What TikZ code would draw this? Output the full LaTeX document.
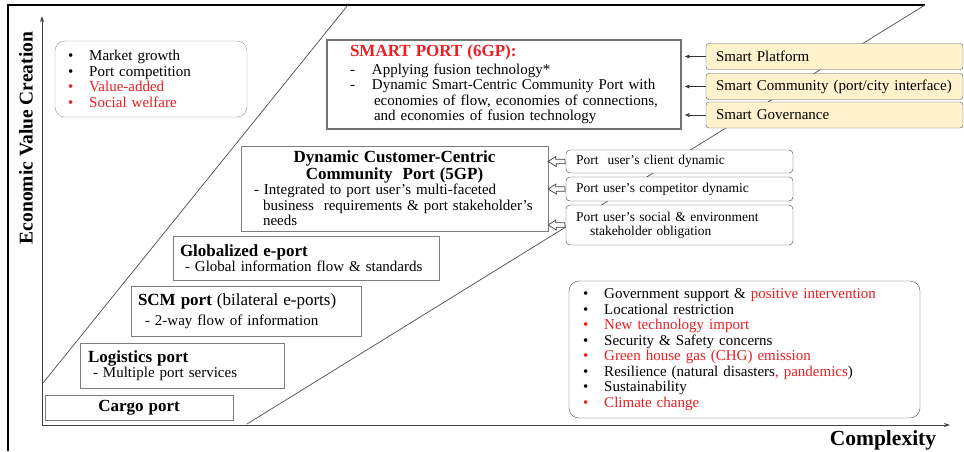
\documentclass[tikz,border=0pt]{standalone}
\usepackage{fontspec}
\setmainfont{Liberation Serif}
\usetikzlibrary{arrows.meta}

\definecolor{hlred}{RGB}{235,30,36}
\definecolor{smartfill}{HTML}{FFF2CC}
\definecolor{boxgray}{RGB}{125,125,125}

\newcommand{\bodyfont}{\fontsize{15}{15.5}\selectfont}
\newcommand{\headfont}{\fontsize{17}{14.5}\selectfont\bfseries}
\newcommand{\userfont}{\fontsize{13.5}{14}\selectfont}
\newcommand{\blt}{\textbullet\hspace{16pt}}
\newcommand{\rblt}[1]{{\color{hlred}\textbullet\hspace{16pt}#1}}

\tikzset{
  genbox/.style={draw=boxgray, fill=white, align=left, font=\bodyfont,
    inner xsep=7pt, inner ysep=0pt},
  listbox/.style={draw=boxgray!80, fill=white, rounded corners=10pt,
    align=left, font=\bodyfont, inner ysep=0pt},
  smartbox/.style={draw=black!65, fill=smartfill, rounded corners=3pt,
    align=left, font=\bodyfont, inner xsep=10pt, inner ysep=0pt,
    text width=237pt, minimum height=26pt},
  userbox/.style={draw=black!75, fill=white, rounded corners=4pt,
    align=left, font=\userfont, inner xsep=10pt, inner ysep=0pt,
    text width=207pt},
  thinarrow/.style={-{Stealth[length=5pt,width=4pt]}, black!80, shorten >=3pt},
  hollowarrow/.style={draw=black!75, fill=white, line width=0.7pt, line join=miter},
  axis/.style={-{Stealth[length=6pt,width=4pt]}, black!75, line width=0.9pt},
  guide/.style={black!70, line width=0.7pt}
}

\begin{document}
\begin{tikzpicture}[x=1pt, y=-1pt]
\useasboundingbox (0,0) rectangle (964,451);

% frame of the figure
\draw[line width=2.5pt] (925,5) -- (8,5) -- (8,451);

% axes
\coordinate (origin) at (42,425);
\coordinate (ytop) at (42,16);
\coordinate (xend) at (950,425);
\draw[axis] (origin) -- (ytop);
\draw[axis] (origin) -- (xend);
\node[rotate=90, font=\fontsize{19.5}{20}\selectfont\bfseries] (ylab) at (26,138) {Economic Value Creation};
\node[font=\fontsize{21.5}{22}\selectfont\bfseries] (xlab) at (883,440) {Complexity};

% diagonal guide lines
\coordinate (a1) at (43,383); \coordinate (a2) at (348,5);
\coordinate (b1) at (247,424); \coordinate (b2) at (925,5);
\draw[guide] (a1) -- (a2);
\draw[guide] (b1) -- (b2);

% port generations
\node[genbox, align=center, text width=174pt, minimum height=25pt] (cargo) at (139,407.5) {\headfont Cargo port};
\node[genbox, inner xsep=8pt, text width=188pt, minimum height=45pt] (logi) at (182,365.5) {{\headfont Logistics port}\\\hspace*{5pt}- Multiple port services};
\node[genbox, text width=216pt, minimum height=50pt] (scm) at (246,311) {{\headfont SCM port}{\fontsize{17}{17}\selectfont{} (bilateral e-ports)}\\[5pt]\hspace*{7pt}- 2-way flow of information};
\node[genbox, text width=252pt, minimum height=44pt] (glob) at (306,258) {{\headfont Globalized e-port}\\\hspace*{5pt}- Global information flow \& standards};
\node[genbox, inner xsep=13pt, text width=281pt, minimum height=85pt] (gp5) at (394.5,188.5) {%
  \parbox{\linewidth}{\centering\headfont Dynamic Customer-Centric\\Community~~Port (5GP)}\\
  - Integrated to port user's multi-faceted\\
  \hspace*{9pt}business~~requirements \& port stakeholder's\\
  \hspace*{9pt}needs};
\node[genbox, line width=1.8pt, draw=black!55, inner xsep=23pt, text width=308pt, minimum height=89pt] (smart) at (504,84.5) {%
  {\headfont\color{hlred}SMART PORT (6GP):}\\[2pt]
  -\hspace{17pt}Applying fusion technology*\\
  -\hspace{17pt}Dynamic Smart-Centric Community Port with\\
  \hspace*{24pt}economies of flow, economies of connections,\\
  \hspace*{24pt}and economies of fusion technology};

% drivers and factors
\node[listbox, inner xsep=13pt, text width=166pt, minimum height=76pt] (drivers) at (151,79) {%
  \blt Market growth\\
  \blt Port competition\\
  \rblt{Value-added}\\
  \rblt{Social welfare}};
\node[listbox, draw=black!70, inner xsep=14pt, text width=323pt, minimum height=137pt] (factors) at (744.5,349.5) {%
  \blt Government support \& {\color{hlred}positive intervention}\\
  \blt Locational restriction\\
  \rblt{New technology import}\\
  \blt Security \& Safety concerns\\
  \rblt{Green house gas (CHG) emission}\\
  \blt Resilience (natural disasters{\color{hlred}, pandemics})\\
  \blt Sustainability\\
  \rblt{Climate change}};

% smart pillars
\foreach \n/\y/\txt in {plat/56.5/Smart Platform, comm/86.5/{Smart Community (port/city interface)}, gov/115/Smart Governance} {
  \node[smartbox] (\n) at (834.5,\y) {\txt};
  \draw[thinarrow] (\n.west) -- (smart.east |- \n.west);
}

% port user dynamics, hollow arrows into the 5GP box
\foreach \n/\y/\h/\txt in {client/161.5/23/Port~~user's client dynamic, rival/189/24/Port user's competitor dynamic, social/225/40/{Port user's social \& environment\\\hspace*{14pt}stakeholder obligation}} {
  \node[userbox, minimum height=\h] (\n) at (679.5,\y) {\txt};
  \draw[hollowarrow] ([xshift=-1pt, yshift=2.2pt]\n.west) -- ++(-9,0) -- ++(0,-2.8) -- (gp5.east |- \n.west)
    -- ++(8,5) -- ++(0,-2.8) -- ++(9,0) -- cycle;
}

\end{tikzpicture}
\end{document}
